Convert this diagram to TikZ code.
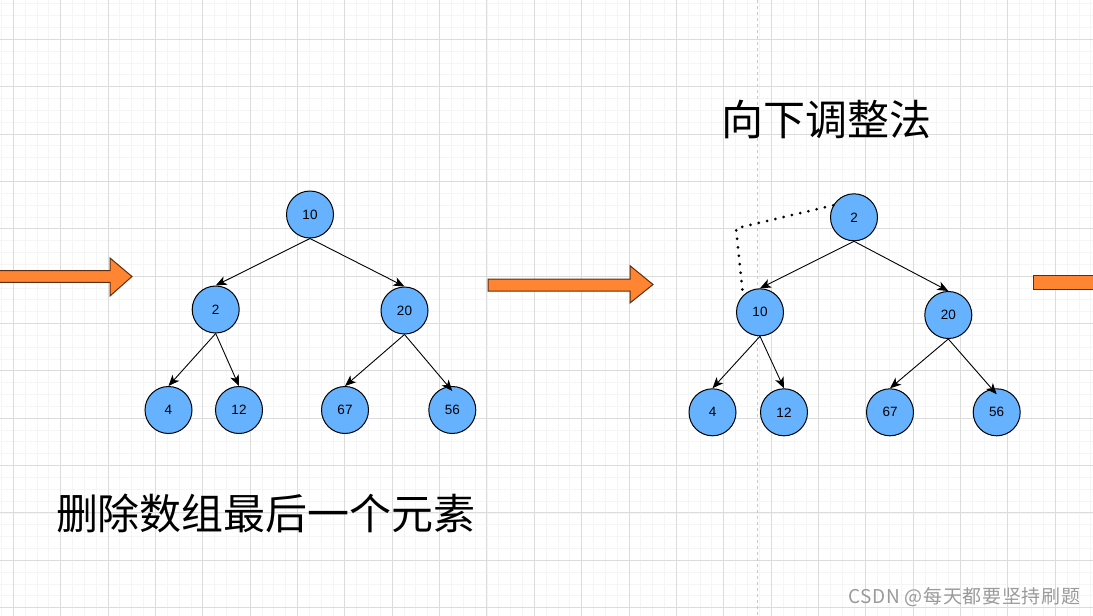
\documentclass[tikz,border=0pt]{standalone}
\usepackage{fontspec}
\setmainfont{Liberation Sans}
\newfontfamily\cjk{Noto Sans CJK SC}
\newfontfamily\wmfont[LetterSpace=3.5]{Noto Sans CJK SC}
\usetikzlibrary{arrows.meta}
\definecolor{nodeblue}{HTML}{66B2FF}
\definecolor{arroworange}{HTML}{FF8533}
\definecolor{arrowedge}{HTML}{5C2E0E}
\definecolor{gridmajor}{HTML}{DCDCDC}
\definecolor{gridminor}{HTML}{F5F5F5}
\definecolor{wmgray}{HTML}{9A9A9A}
\tikzset{
  heapnode/.style={circle, draw=black, fill=nodeblue, minimum size=47pt, inner sep=0pt,
    line width=1pt, font=\fontsize{13.5}{14}\selectfont},
  heapedge/.style={-{Stealth[length=11pt,width=9pt,inset=3pt]}, line width=0.9pt},
  bigarrow/.style={fill=arroworange, draw=arrowedge, line width=1pt, line join=miter},
  bigtitle/.style={font=\cjk\fontsize{42}{46}\selectfont, inner sep=0pt},
}
\begin{document}
\begin{tikzpicture}[x=1pt,y=-1pt]
\useasboundingbox (0,0) rectangle (1093,616);
\fill[white] (0,0) rectangle (1093,616);
% grid
\foreach \i in {-4,...,92} {
  \draw[gridminor, line width=0.8pt] ({13.3+11.84*\i},0) -- ({13.3+11.84*\i},616);
}
\foreach \i in {-4,...,52} {
  \draw[gridminor, line width=0.8pt] (0,{39.3+11.84*\i}) -- (1093,{39.3+11.84*\i});
}
\foreach \i in {0,...,23} {
  \draw[gridmajor, line width=0.9pt] ({13.3+47.36*\i},0) -- ({13.3+47.36*\i},616);
}
\foreach \i in {-1,...,12} {
  \draw[gridmajor, line width=0.9pt] (0,{39.3+47.36*\i}) -- (1093,{39.3+47.36*\i});
}
% vertical dashed separator
\draw[color={rgb,255:red,200;green,200;blue,200}, line width=1pt, dash pattern=on 3pt off 3pt] (757,0) -- (757,616);

% orange arrows
\draw[bigarrow] (-5,270.7) -- (110,270.7) -- (110,258) -- (132,276.5) -- (110,296) -- (110,282.3) -- (-5,282.3) -- cycle;
\draw[bigarrow] (488,279) -- (630,279) -- (630,265.7) -- (653,284.5) -- (630,303) -- (630,291) -- (488,291) -- cycle;
\draw[bigarrow] (1100,275.7) -- (1033,275.7) -- (1033,289) -- (1100,289);

% tree 1
\node[heapnode] (a10) at (310,214.5) {10};
\node[heapnode] (a2)  at (215.7,309.5) {2};
\node[heapnode] (a20) at (404.5,310.5) {20};
\node[heapnode] (a4)  at (168.5,410) {4};
\node[heapnode] (a12) at (239,410) {12};
\node[heapnode] (a67) at (345,410) {67};
\node[heapnode] (a56) at (452.3,410) {56};
\draw[heapedge] (a10.south) -- (a2.north);
\draw[heapedge] (a10.south) -- (a20.north);
\draw[heapedge] (a2.south) -- (a4.north);
\draw[heapedge] (a2.south) -- (a12.north);
\draw[heapedge] (a20.south) -- (a67.north);
\draw[heapedge] (a20.south) -- ([yshift=-5pt]a56.north);

% tree 2
\node[heapnode] (b2)  at (854,217.3) {2};
\node[heapnode] (b10) at (760,312.3) {10};
\node[heapnode] (b20) at (948.3,315) {20};
\node[heapnode] (b4)  at (712.5,412.3) {4};
\node[heapnode] (b12) at (784,412.3) {12};
\node[heapnode] (b67) at (890,412.3) {67};
\node[heapnode] (b56) at (996.7,412.3) {56};
\draw[heapedge] (b2.south) -- (b10.north);
\draw[heapedge] (b2.south) -- (b20.north);
\draw[heapedge] (b10.south) -- (b4.north);
\draw[heapedge] (b10.south) -- (b12.north);
\draw[heapedge] (b20.south) -- (b67.north);
\draw[heapedge] (b20.south) -- ([yshift=-6pt]b56.north);

% dotted swap hint
\coordinate (d1) at (736,228.3);
\coordinate (d2) at (742.7,293);
\draw[line width=3pt, line cap=round, dash pattern=on 0pt off 8.5pt] (b2.150) -- (d1) -- (d2);

% texts
\node[bigtitle] (t1) at (826,119) {向下调整法};
\node[bigtitle] (t2) at (266,513) {删除数组最后一个元素};
\node[anchor=west, inner sep=0pt, text=wmgray, font=\wmfont\fontsize{19}{20}\selectfont] (wm) at (848,597) {CSDN @每天都要坚持刷题};
\end{tikzpicture}
\end{document}
